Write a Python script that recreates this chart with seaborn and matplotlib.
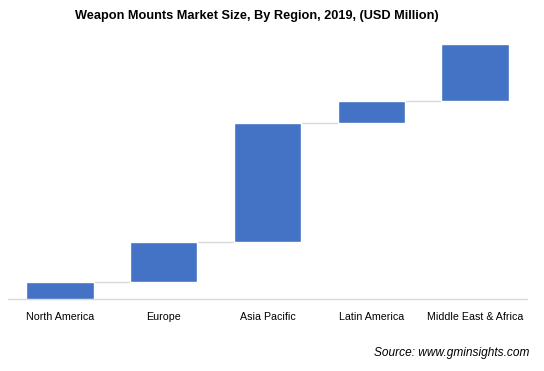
import numpy as np
import pandas as pd
import matplotlib
matplotlib.use("Agg")
import matplotlib.pyplot as plt
import seaborn as sns

regions = ["North America", "Europe", "Asia Pacific", "Latin America", "Middle East & Africa"]
increments = [17, 39, 118, 22, 56]

sns.set_theme(style="white")
plt.rcParams['font.family'] = ['Liberation Sans', 'DejaVu Sans']

tops = np.cumsum(increments)
bottoms = tops - np.array(increments)
df = pd.DataFrame({"region": regions, "inc": increments, "bottom": bottoms})

fig = plt.figure(figsize=(5.44, 3.71), dpi=100)
ax = fig.add_axes([8/544, (371-299)/371, 519/544, 259/371])

bw = 0.65
sns.barplot(data=df, x="region", y="inc", bottom=df["bottom"].values, color="#4472C4",
            saturation=1, width=bw, ax=ax, zorder=3)

for i in range(len(regions) - 1):
    ax.hlines(tops[i], i + bw/2, i + 1 - bw/2, color="#D9D9D9", lw=1.0, zorder=2)

ax.set_xlim(-0.5, len(regions) - 0.5)
ax.set_ylim(0, 256)
ax.set_xlabel("")
ax.set_ylabel("")
ax.set_yticks([])
for s in ["top", "right", "left"]:
    ax.spines[s].set_visible(False)
ax.spines["bottom"].set_color("#D9D9D9")
ax.spines["bottom"].set_linewidth(1.0)
ax.tick_params(axis="x", length=0, pad=9.5, labelsize=7.7, labelcolor="#000000")

fig.text(256.5/544, 1 - 16/371, "Weapon Mounts Market Size, By Region, 2019, (USD Million)",
         ha="center", va="center", fontsize=9.2, fontweight="bold", color="#000000")
fig.text(529/544, 1 - 353/371, "Source: www.gminsights.com", ha="right", va="center",
         fontsize=8.55, style="italic", color="#000000")

fig.savefig("out.png", dpi=100)
